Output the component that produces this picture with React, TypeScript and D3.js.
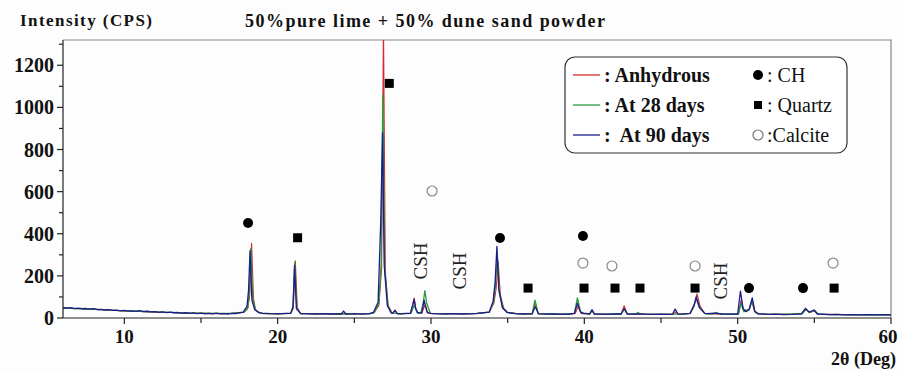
import React, { useEffect, useRef } from 'react';
import * as d3 from 'd3';

type Pt = [number, number];

// shared-looking background for each pattern (2θ, counts)
const baseBlue: Pt[] = [
  [6, 50], [6.25, 47], [6.5, 49], [6.75, 45], [7, 47], [7.25, 44], [7.5, 45], [7.75, 42],
  [8, 44], [8.25, 40], [8.5, 41], [8.75, 38], [9, 40], [9.25, 36], [9.5, 37], [9.75, 34],
  [10, 36], [10.25, 33], [10.5, 34], [10.75, 31], [11, 35], [11.25, 30], [11.5, 32], [11.75, 29],
  [12, 30], [12.25, 27], [12.5, 29], [12.75, 26], [13, 28], [13.25, 25], [13.5, 26], [13.75, 23],
  [14, 25], [14.25, 22], [14.5, 24], [14.75, 21], [15, 23], [15.25, 20], [15.5, 22], [15.75, 20],
  [16, 23], [16.25, 20], [16.5, 21], [16.75, 19], [17, 22], [17.25, 21], [17.5, 25],
  [19, 23], [19.5, 21], [20, 20], [20.5, 22], [21.75, 21], [22, 20], [22.5, 19], [23, 21],
  [23.5, 19], [24, 20], [24.15, 19], [24.3, 33], [24.45, 19], [24.75, 20], [25, 21], [25.5, 18],
  [26, 21], [28, 20], [28.3, 22], [30, 22], [30.5, 20], [31, 19], [31.5, 21], [32, 19],
  [32.5, 20], [33, 22], [33.5, 26], [35.5, 21], [36, 19], [36.3, 20], [37.5, 18], [38, 19],
  [38.5, 17], [39, 19], [40.1, 22], [41, 18], [41.5, 17], [42, 19], [43, 18], [43.5, 20],
  [44, 18], [44.5, 17], [45, 18], [45.5, 17], [46.6, 20], [48, 21], [48.5, 23], [49, 19],
  [49.5, 18], [51.5, 20], [52, 17], [52.5, 18], [53, 16], [53.5, 17], [54, 20], [55.5, 18],
  [56, 16], [56.5, 17], [57, 15], [57.5, 16], [58, 15], [58.5, 16], [59, 15], [59.5, 16], [60, 15]
];
const baseRed: Pt[] = [
  [6, 47], [7, 45], [8, 41], [9, 38], [10, 33], [11, 31], [12, 28], [13, 26], [14, 24],
  [15, 22], [16, 21], [17, 22], [19, 21], [20, 21], [22, 20], [23, 19], [24, 21], [25, 19],
  [26, 20], [28, 21], [30, 21], [31, 20], [32, 21], [33, 21], [35.5, 22], [36, 20], [38, 18],
  [39, 18], [41, 19], [42, 18], [43, 19], [44, 17], [45, 18], [46.5, 19], [48, 20], [49, 18],
  [52, 18], [53, 17], [54, 19], [56, 17], [57, 16], [58, 16], [59, 16], [60, 16]
];
const baseGreen: Pt[] = [
  [6, 48], [7, 44], [8, 42], [9, 37], [10, 34], [11, 32], [12, 29], [13, 27], [14, 23],
  [15, 23], [16, 22], [17, 23], [19, 22], [20, 20], [22, 21], [23, 20], [24, 19], [25, 20],
  [26, 21], [28, 20], [30, 22], [31, 21], [32, 20], [33, 22], [35.5, 21], [36, 19], [38, 19],
  [39, 19], [41, 18], [42, 19], [44, 18], [45, 17], [46.5, 20], [48, 20], [49, 19],
  [52, 17], [53, 18], [54, 20], [56, 16], [57, 16], [58, 15], [59, 16], [60, 15]
];

// peak profiles
const peaksRed: Pt[][] = [
  [[17.8, 27], [18.05, 45], [18.18, 110], [18.3, 355], [18.42, 95], [18.55, 40], [18.8, 26]],
  [[20.85, 22], [21.02, 45], [21.15, 272], [21.28, 50], [21.5, 21]],
  [[26.3, 26], [26.6, 60], [26.78, 240], [26.9, 1400], [27.02, 220], [27.2, 60], [27.45, 24]],
  [[27.5, 22], [27.65, 38], [27.8, 21]],
  [[28.65, 22], [28.8, 60], [28.9, 95], [29.02, 40], [29.15, 24]],
  [[29.4, 24], [29.6, 62], [29.8, 24]],
  [[33.8, 28], [34.1, 70], [34.25, 140], [34.38, 268], [34.52, 110], [34.75, 45], [35.0, 26]],
  [[36.6, 20], [36.8, 75], [37.0, 20]],
  [[39.4, 21], [39.6, 55], [39.8, 21]],
  [[40.35, 19], [40.5, 35], [40.65, 19]],
  [[42.4, 19], [42.6, 58], [42.8, 19]],
  [[45.8, 18], [45.95, 28], [46.1, 18]],
  [[46.9, 22], [47.15, 60], [47.35, 115], [47.55, 55], [47.85, 22]],
  [[50.05, 19], [50.22, 85], [50.4, 35], [50.75, 40], [50.92, 80], [51.1, 30], [51.3, 20]],
  [[54.2, 20], [54.45, 40], [54.7, 26], [55.0, 33], [55.25, 18]]
];
const peaksGreen: Pt[][] = [
  [[17.8, 27], [18.05, 50], [18.15, 120], [18.25, 330], [18.38, 90], [18.55, 38], [18.8, 26]],
  [[20.85, 22], [21.0, 50], [21.12, 265], [21.25, 45], [21.5, 21]],
  [[26.3, 26], [26.6, 70], [26.75, 260], [26.86, 1060], [26.98, 230], [27.2, 55], [27.45, 24]],
  [[28.7, 22], [28.9, 60], [29.1, 25]],
  [[29.35, 25], [29.5, 75], [29.6, 130], [29.72, 70], [29.95, 24]],
  [[33.8, 28], [34.08, 75], [34.2, 150], [34.32, 300], [34.45, 120], [34.7, 45], [35.0, 26]],
  [[36.6, 20], [36.78, 85], [36.98, 22]],
  [[39.35, 22], [39.55, 95], [39.75, 30], [39.95, 22]],
  [[40.35, 19], [40.5, 35], [40.65, 19]],
  [[42.4, 19], [42.6, 42], [42.8, 19]],
  [[43.3, 18], [43.5, 26], [43.7, 18]],
  [[46.9, 22], [47.15, 55], [47.3, 92], [47.5, 50], [47.85, 22]],
  [[48.35, 19], [48.6, 26], [48.85, 19]],
  [[50.05, 19], [50.22, 70], [50.4, 30], [50.75, 40], [50.95, 82], [51.12, 30], [51.3, 20]],
  [[54.2, 20], [54.45, 42], [54.7, 26], [55.02, 36], [55.25, 18]]
];
const peaksBlue: Pt[][] = [
  [[17.75, 28], [18.0, 55], [18.1, 130], [18.2, 320], [18.32, 85], [18.5, 40], [18.75, 26]],
  [[20.85, 22], [21.0, 55], [21.1, 250], [21.22, 45], [21.5, 21]],
  [[26.25, 27], [26.55, 75], [26.72, 450], [26.84, 880], [26.95, 250], [27.15, 60], [27.4, 24]],
  [[27.5, 22], [27.65, 36], [27.8, 21]],
  [[28.65, 22], [28.82, 65], [28.9, 90], [29.0, 45], [29.15, 24]],
  [[29.4, 24], [29.55, 85], [29.75, 26]],
  [[33.8, 28], [34.05, 80], [34.18, 170], [34.3, 340], [34.42, 140], [34.65, 50], [34.95, 27]],
  [[36.6, 20], [36.8, 55], [37.0, 20]],
  [[39.35, 22], [39.55, 70], [39.75, 28], [39.95, 22]],
  [[40.35, 19], [40.5, 40], [40.65, 19]],
  [[42.4, 19], [42.6, 45], [42.8, 19]],
  [[45.75, 18], [45.92, 42], [46.1, 20], [46.3, 18]],
  [[46.9, 22], [47.15, 60], [47.3, 100], [47.5, 52], [47.85, 22]],
  [[50.0, 19], [50.18, 128], [50.35, 45], [50.55, 30], [50.75, 40], [50.95, 95], [51.12, 32], [51.35, 20]],
  [[54.15, 20], [54.42, 46], [54.65, 28], [54.98, 38], [55.2, 19]]
];

// phase markers (2θ, intensity where drawn)
const chMarks: Pt[] = [[18.07, 451], [34.5, 380], [39.91, 389], [50.74, 142], [54.26, 142]];
const quartzMarks: Pt[] = [[21.3, 381], [27.28, 1114], [36.33, 142], [39.98, 142], [42.0, 142], [43.63, 142], [47.22, 142], [56.29, 142]];
const calciteMarks: Pt[] = [[30.07, 603], [39.91, 261], [41.8, 247], [47.22, 247], [56.22, 261]];
const cshLabels: Pt[] = [[29.28, 271], [31.83, 223], [48.86, 176]];

const xMajor = [10, 20, 30, 40, 50, 60];
const xMinor = [15, 25, 35, 45, 55];
const yMajor = [0, 200, 400, 600, 800, 1000, 1200];
const yMinor = [100, 300, 500, 700, 900, 1100, 1300];

const seriesNames = [': Anhydrous', ': At 28 days', ':  At 90 days'];
const seriesColors = ['#d42a2a', '#2a9a3c', '#1c1c8a'];
const phaseNames = [': CH', ': Quartz', ':Calcite'];

function buildSeries(base: Pt[], peaks: Pt[][]): Pt[] {
  const ranges = peaks.map(p => [p[0][0], p[p.length - 1][0]]);
  const kept = base.filter(([x]) => !ranges.some(([a, b]) => x >= a && x <= b));
  return [...kept, ...peaks.flat()].sort((a, b) => a[0] - b[0]);
}

const App: React.FC = () => {
  const ref = useRef<SVGSVGElement>(null);

  useEffect(() => {
    if (!ref.current) return;
    const svg = d3.select(ref.current);
    svg.selectAll('*').remove();

    const W = 903, H = 370;
    const left = 63, right = 891, top = 40, bottom = 318;
    const font = '"Liberation Serif", "Times New Roman", serif';

    const x = d3.scaleLinear().domain([6, 60]).range([left, right]);
    const y = d3.scaleLinear().domain([0, 1320]).range([bottom, top]);

    svg.append('rect').attr('width', W).attr('height', H).attr('fill', '#fdfdfd');

    svg.append('defs').append('clipPath').attr('id', 'plotclip')
      .append('rect').attr('x', left).attr('y', top).attr('width', right - left).attr('height', bottom - top);

    // frame
    svg.append('path')
      .attr('d', `M${left},${top}H${right}V${bottom}`)
      .attr('fill', 'none').attr('stroke', '#888').attr('stroke-width', 1.2);

    const lines = [
      buildSeries(baseRed, peaksRed),
      buildSeries(baseGreen, peaksGreen),
      buildSeries(baseBlue, peaksBlue)
    ];
    const line = d3.line<Pt>().x(d => x(d[0])).y(d => y(d[1]));
    const plot = svg.append('g').attr('clip-path', 'url(#plotclip)');
    lines.forEach((pts, i) => {
      plot.append('path')
        .attr('d', line(pts)!)
        .attr('fill', 'none')
        .attr('stroke', seriesColors[i])
        .attr('stroke-width', i === 0 ? 1.1 : 1.3)
        .attr('stroke-linejoin', 'round');
    });

    // axes
    const ax = svg.append('g').attr('stroke', '#222').attr('stroke-width', 1.2);
    ax.append('line').attr('x1', left).attr('x2', left).attr('y1', top).attr('y2', bottom);
    ax.append('line').attr('x1', left).attr('x2', right).attr('y1', bottom).attr('y2', bottom);
    yMajor.forEach(v => ax.append('line').attr('x1', left - 6).attr('x2', left).attr('y1', y(v)).attr('y2', y(v)));
    yMinor.forEach(v => ax.append('line').attr('x1', left - 4).attr('x2', left).attr('y1', y(v)).attr('y2', y(v)));
    xMajor.forEach(v => ax.append('line').attr('x1', x(v)).attr('x2', x(v)).attr('y1', bottom).attr('y2', bottom + 6));
    xMinor.forEach(v => ax.append('line').attr('x1', x(v)).attr('x2', x(v)).attr('y1', bottom).attr('y2', bottom + 5));

    yMajor.forEach(v => {
      svg.append('text').attr('x', left - 9).attr('y', y(v)).attr('dy', '0.35em')
        .attr('text-anchor', 'end').attr('font-family', font).attr('font-size', 20)
        .attr('font-weight', 'bold').attr('fill', '#111').text(v);
    });
    xMajor.forEach(v => {
      svg.append('text').attr('x', v === 60 ? x(v) - 3 : x(v)).attr('y', bottom + 25)
        .attr('text-anchor', 'middle').attr('font-family', font).attr('font-size', 19)
        .attr('font-weight', 'bold').attr('fill', '#111').text(v);
    });

    svg.append('text').attr('x', 20).attr('y', 26).attr('font-family', font).attr('font-size', 17)
      .attr('font-weight', 'bold').attr('fill', '#111')
      .attr('textLength', 132).attr('lengthAdjust', 'spacing').text('Intensity (CPS)');
    svg.append('text').attr('x', 245).attr('y', 27).attr('font-family', font).attr('font-size', 18)
      .attr('font-weight', 'bold').attr('fill', '#111')
      .attr('textLength', 360).attr('lengthAdjust', 'spacing').text('50%pure lime + 50% dune sand powder');
    const xl = svg.append('text').attr('x', 896).attr('y', 365).attr('text-anchor', 'end')
      .attr('font-family', font).attr('font-size', 18).attr('font-weight', 'bold').attr('fill', '#111');
    xl.append('tspan').text('2θ ');
    xl.append('tspan').text('(Deg)');

    // phase markers
    chMarks.forEach(([a, b]) => svg.append('circle').attr('cx', x(a)).attr('cy', y(b)).attr('r', 5).attr('fill', '#000'));
    quartzMarks.forEach(([a, b]) => svg.append('rect').attr('x', x(a) - 4.5).attr('y', y(b) - 4.5)
      .attr('width', 9).attr('height', 9).attr('fill', '#000'));
    calciteMarks.forEach(([a, b]) => svg.append('circle').attr('cx', x(a)).attr('cy', y(b)).attr('r', 5)
      .attr('fill', 'none').attr('stroke', '#888').attr('stroke-width', 1.2));
    cshLabels.forEach(([a, b]) => {
      svg.append('text').attr('transform', `translate(${x(a) + 7},${y(b)}) rotate(-90)`)
        .attr('text-anchor', 'middle').attr('font-family', font).attr('font-size', 19)
        .attr('fill', '#222').text('CSH');
    });

    // legend
    const lg = svg.append('g');
    lg.append('rect').attr('x', 565).attr('y', 57).attr('width', 282).attr('height', 96).attr('rx', 10)
      .attr('fill', '#fff').attr('stroke', '#333').attr('stroke-width', 1.2);
    const rowY = [75, 105, 135];
    seriesNames.forEach((name, i) => {
      lg.append('line').attr('x1', 573).attr('x2', 600).attr('y1', rowY[i]).attr('y2', rowY[i])
        .attr('stroke', seriesColors[i]).attr('stroke-width', 1.3);
      lg.append('text').attr('x', 604).attr('y', rowY[i]).attr('dy', '0.35em')
        .attr('font-family', font).attr('font-size', 20).attr('fill', '#111')
        .attr('font-weight', 'bold').style('white-space', 'pre').text(name);
    });
    lg.append('circle').attr('cx', 758).attr('cy', rowY[0]).attr('r', 5).attr('fill', '#000');
    lg.append('rect').attr('x', 754).attr('y', rowY[1] - 4).attr('width', 8).attr('height', 8).attr('fill', '#000');
    lg.append('circle').attr('cx', 758).attr('cy', rowY[2]).attr('r', 5).attr('fill', 'none')
      .attr('stroke', '#777').attr('stroke-width', 1.2);
    phaseNames.forEach((name, i) => {
      lg.append('text').attr('x', 767).attr('y', rowY[i]).attr('dy', '0.35em')
        .attr('font-family', font).attr('font-size', 20).attr('fill', '#111').text(name);
    });
  }, []);

  return (
    <svg ref={ref} width={903} height={370}
      style={{ position: 'absolute', left: 0, top: 0, display: 'block' }} />
  );
};

export default App;
